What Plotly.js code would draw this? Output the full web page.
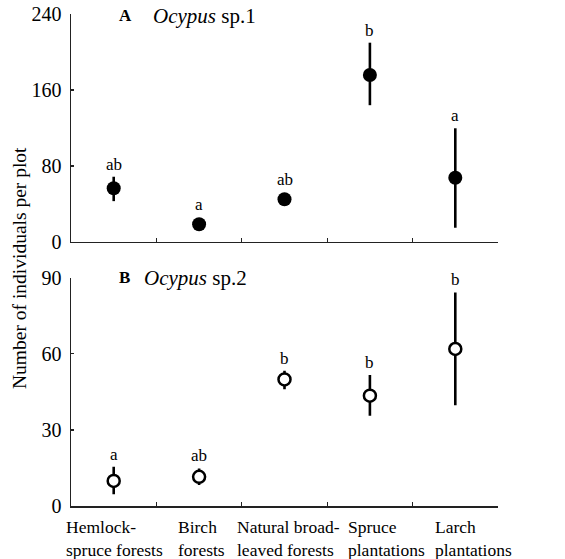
<!DOCTYPE html>
<html>
<head>
<meta charset="utf-8">
<script src="https://cdn.plot.ly/plotly-3.0.1.min.js"></script>
<style>html,body{margin:0;padding:0;background:#fff;}#chart{width:565px;height:559px;}</style>
</head>
<body>
<div id="chart"></div>
<script>
// ---- data ----
const categories = ["Hemlock-spruce forests", "Birch forests", "Natural broad-leaved forests", "Spruce plantations", "Larch plantations"];
const catLine1 = ["Hemlock-", "Birch", "Natural broad-", "Spruce", "Larch"];
const catLine2 = ["spruce forests", "forests", "leaved forests", "plantations", "plantations"];

const meanA = [56.5, 18.6, 45.0, 175.8, 67.7];
const errPlusA = [12.2, 3, 3, 34.0, 52.0];
const errMinusA = [13.5, 3, 3, 31.8, 52.7];
const lettersA = ["ab", "a", "ab", "b", "a"];

const meanB = [9.9, 11.5, 49.9, 43.5, 61.9];
const errPlusB = [5.6, 3.3, 3.4, 8.1, 22.3];
const errMinusB = [5.3, 3.2, 3.9, 7.9, 22.2];
const lettersB = ["a", "ab", "b", "b", "b"];

const yTicksA = [0, 80, 160, 240];
const yTicksB = [0, 30, 60, 90];

// ---- layout constants ----
const W = 565, H = 559;
const M = {l: 71, r: 67, t: 14, b: 53};
const plotH = H - M.t - M.b;
const domA = [0.5366, 1];
const domB = [0, 0.464];
const rangeA = [0, 240], rangeB = [0, 90];
const FONT = "Liberation Serif, Times New Roman, serif";
const pxX = px => (px - M.l) / (W - M.l - M.r);
const pxY = py => (H - M.b - py) / plotH;

const traceA = {
  type: "scatter", mode: "markers", x: categories, y: meanA,
  xaxis: "x", yaxis: "y",
  marker: {color: "#000", size: 14, line: {width: 0}},
  error_y: {type: "data", symmetric: false, array: errPlusA, arrayminus: errMinusA,
            color: "#000", thickness: 2.6, width: 0},
  hoverinfo: "skip"
};
const traceB = {
  type: "scatter", mode: "markers", x: categories, y: meanB,
  xaxis: "x2", yaxis: "y2",
  marker: {color: "#fff", size: 12, symbol: "circle", line: {color: "#000", width: 2.5}},
  error_y: {type: "data", symmetric: false, array: errPlusB, arrayminus: errMinusB,
            color: "#000", thickness: 2.6, width: 0},
  hoverinfo: "skip"
};

const axisLine = {showline: true, linecolor: "#222", linewidth: 1.5, mirror: false, zeroline: false, showgrid: false};
const xBase = Object.assign({}, axisLine, {
  type: "category", range: [-0.5, 4.5], tickson: "boundaries", ticks: "inside",
  ticklen: 4, tickwidth: 1.2, tickcolor: "#222", showticklabels: false, fixedrange: true
});
const yBase = Object.assign({}, axisLine, {
  ticks: "inside", ticklen: 3, tickwidth: 1.2, tickcolor: "#222",
  tickfont: {family: FONT, size: 20, color: "#000"}, ticklabelstandoff: 4
});

const annotations = [];
function letterAnnots(means, plus, letters, xref, yref, range, dom) {
  const pxPerUnit = (dom[1] - dom[0]) * plotH / (range[1] - range[0]);
  means.forEach((m, i) => {
    const up = Math.max(plus[i] * pxPerUnit, 7);
    annotations.push({
      xref: xref, yref: yref, x: categories[i], y: m, text: letters[i],
      showarrow: false, yanchor: "middle", yshift: up + 12.5,
      font: {family: FONT, size: 17, color: "#000"}
    });
  });
}
letterAnnots(meanA, errPlusA, lettersA, "x", "y", rangeA, domA);
letterAnnots(meanB, errPlusB, lettersB, "x2", "y2", rangeB, domB);

// panel titles
const panelTitles = [["A", "<i>Ocypus</i> sp.1", 16, 151], ["B", "<i>Ocypus</i> sp.2", 277.5, 142]];
panelTitles.forEach(t => {
  annotations.push({xref: "paper", yref: "paper", x: pxX(116.5), y: pxY(t[2]), xanchor: "left", yanchor: "middle",
    text: "<b>" + t[0] + "</b>", showarrow: false, font: {family: FONT, size: 17, color: "#000"}});
  annotations.push({xref: "paper", yref: "paper", x: pxX(t[3]), y: pxY(t[2]), xanchor: "left", yanchor: "middle",
    text: t[1], showarrow: false, font: {family: FONT, size: 21, color: "#000"}});
});

// category labels (two left-aligned lines each)
const labelLeft = [64, 176, 235, 346, 433];
catLine1.forEach((s, i) => {
  annotations.push({xref: "paper", yref: "paper", x: pxX(labelLeft[i]), y: pxY(538), xanchor: "left", yanchor: "middle",
    align: "left", text: s + "<br>" + catLine2[i], showarrow: false, font: {family: FONT, size: 17.5, color: "#000"}});
});

// y-axis title
annotations.push({xref: "paper", yref: "paper", x: pxX(19), y: pxY(268), xanchor: "center", yanchor: "middle",
  text: "Number of individuals per plot", textangle: -90, showarrow: false,
  font: {family: FONT, size: 19.5, color: "#000"}});

const layout = {
  width: W, height: H, margin: M, showlegend: false,
  paper_bgcolor: "#fff", plot_bgcolor: "#fff",
  xaxis: Object.assign({}, xBase, {anchor: "y", domain: [0, 1]}),
  xaxis2: Object.assign({}, xBase, {anchor: "y2", domain: [0, 1]}),
  yaxis: Object.assign({}, yBase, {anchor: "x", domain: domA, range: rangeA, tickvals: yTicksA, ticktext: yTicksA.map(String)}),
  yaxis2: Object.assign({}, yBase, {anchor: "x2", domain: domB, range: rangeB, tickvals: yTicksB, ticktext: yTicksB.map(String)}),
  annotations: annotations
};

Plotly.newPlot("chart", [traceA, traceB], layout, {staticPlot: true, displayModeBar: false});
</script>
</body>
</html>
